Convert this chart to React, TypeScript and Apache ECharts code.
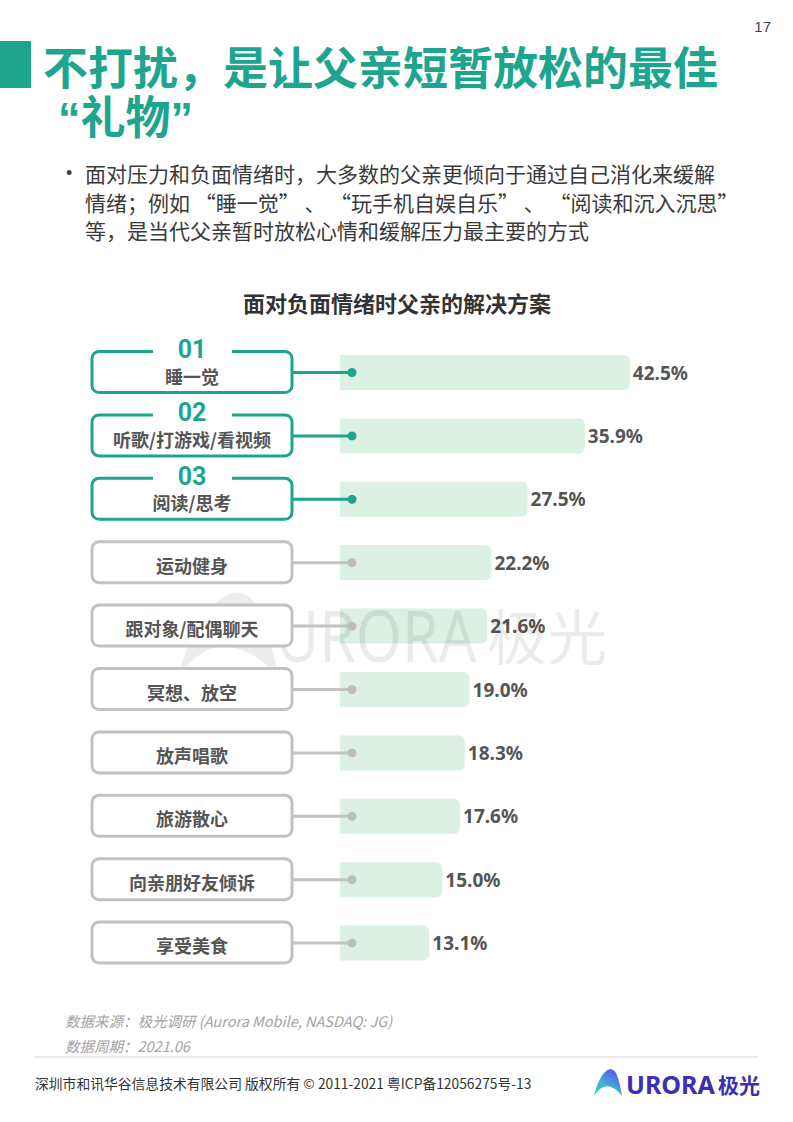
import React, { useEffect, useRef } from "react";
import * as echarts from "echarts";

const categories = [
  "睡一觉",
  "听歌/打游戏/看视频",
  "阅读/思考",
  "运动健身",
  "跟对象/配偶聊天",
  "冥想、放空",
  "放声唱歌",
  "旅游散心",
  "向亲朋好友倾诉",
  "享受美食",
];
const values = [42.5, 35.9, 27.5, 22.2, 21.6, 19.0, 18.3, 17.6, 15.0, 13.1];
const ranks = ["01", "02", "03"];

const titleLines = ["不打扰，是让父亲短暂放松的最佳", "“礼物”"];
const bulletLines = [
  "面对压力和负面情绪时，大多数的父亲更倾向于通过自己消化来缓解",
  "情绪；例如 “睡一觉” 、 “玩手机自娱自乐” 、 “阅读和沉入沉思”",
  "等，是当代父亲暂时放松心情和缓解压力最主要的方式",
];
const chartTitle = "面对负面情绪时父亲的解决方案";
const sourceLines = ["数据来源：极光调研 (Aurora Mobile, NASDAQ: JG)", "数据周期：2021.06"];
const footerText = "深圳市和讯华谷信息技术有限公司 版权所有 © 2011-2021 粤ICP备12056275号-13";
const pageNumber = "17";

const TEAL = "#1ea58e";
const GRAY = "#c2c2c2";
const CJK = "'Noto Sans CJK SC', 'Noto Sans', sans-serif";

const LOGO_D =
  "M0 100 C8 62 28 12 52 2 C64 -3 74 6 80 18 C90 42 96 72 100 100 C86 80 68 66 48 64 C30 63 14 78 0 100 Z";

let registered = false;
function ensureShape() {
  if (registered) return;
  echarts.graphic.registerShape("logo", echarts.graphic.extendPath(LOGO_D, {}));
  registered = true;
}

export default function App() {
  const ref = useRef<HTMLDivElement>(null);
  useEffect(() => {
    if (!ref.current) return;
    ensureShape();
    const chart = echarts.init(ref.current, null, { renderer: "svg" });

    const graphics: any[] = [
      { type: "rect", shape: { x: 0, y: 41, width: 31, height: 47 }, style: { fill: TEAL } },
      {
        type: "text",
        x: 43,
        y: 65,
        style: {
          text: titleLines[0],
          fontSize: 45,
          fontWeight: "bold",
          fontFamily: CJK,
          fill: TEAL,
          verticalAlign: "middle",
        },
      },
      {
        type: "text",
        x: 58,
        y: 118,
        style: {
          text: titleLines[1],
          fontSize: 45,
          fontWeight: "bold",
          fontFamily: "'Liberation Sans', 'Noto Sans CJK SC', sans-serif",
          fill: TEAL,
          verticalAlign: "middle",
        },
      },
      {
        type: "text",
        x: 771,
        y: 26,
        style: { text: pageNumber, fontSize: 15, fontFamily: "'Liberation Sans', sans-serif", fill: "#444", align: "right", verticalAlign: "middle" },
      },
      {
        type: "text",
        x: 66,
        y: 173,
        style: { text: "•", fontSize: 18, fontFamily: "'Liberation Sans', sans-serif", fill: "#404040", verticalAlign: "middle" },
      },
      ...bulletLines.map((t, i) => ({
        type: "text",
        x: 85,
        y: 173 + i * 28.5,
        style: { text: t, fontSize: 21, fontFamily: CJK, fill: "#3a3a3a", verticalAlign: "middle" },
      })),
      {
        type: "text",
        x: 397,
        y: 302,
        style: {
          text: chartTitle,
          fontSize: 22,
          fontWeight: "bold",
          fontFamily: CJK,
          fill: "#333",
          align: "center",
          verticalAlign: "middle",
        },
      },
      // watermark
      {
        type: "logo",
        x: 178,
        y: 592,
        scaleX: 1.0,
        scaleY: 0.85,
        z: 5,
        style: { fill: "rgba(0,0,0,0.07)" },
      },
      {
        type: "text",
        x: 276,
        y: 634,
        scaleX: 0.82,
        z: 5,
        style: {
          text: "URORA",
          fontSize: 72,
          lineHeight: 60,
          fontFamily: "'Noto Sans', sans-serif",
          fill: "rgba(0,0,0,0.08)",
          verticalAlign: "middle",
        },
      },
      {
        type: "text",
        x: 487,
        y: 633,
        z: 5,
        style: {
          text: "极光",
          fontSize: 60,
          lineHeight: 58,
          fontFamily: CJK,
          fill: "rgba(0,0,0,0.08)",
          verticalAlign: "middle",
        },
      },
      ...sourceLines.map((t, i) => ({
        type: "text",
        x: 65,
        y: 1020 + i * 25,
        style: { text: t, fontSize: 14.5, fontStyle: "italic", fontFamily: CJK, fill: "#a3a3a3", verticalAlign: "middle" },
      })),
      {
        type: "line",
        shape: { x1: 35, y1: 1057, x2: 758, y2: 1057 },
        style: { stroke: "#e3e3e3", lineWidth: 1.5 },
      },
      {
        type: "text",
        x: 35,
        y: 1083,
        style: { text: footerText, fontSize: 13.8, fontFamily: CJK, fill: "#333", verticalAlign: "middle" },
      },
      {
        type: "logo",
        x: 594,
        y: 1069,
        scaleX: 0.28,
        scaleY: 0.27,
        style: {
          fill: {
            type: "linear",
            x: 0,
            y: 1,
            x2: 0.6,
            y2: 0,
            colorStops: [
              { offset: 0, color: "#27dba0" },
              { offset: 0.5, color: "#3fb0d8" },
              { offset: 1, color: "#5a5cf0" },
            ],
          },
        },
      },
      {
        type: "text",
        x: 626,
        y: 1084,
        style: {
          text: "URORA",
          fontSize: 25,
          fontWeight: "bold",
          fontFamily: "'Noto Sans', sans-serif",
          fill: "#3b2fb5",
          verticalAlign: "middle",
        },
      },
      {
        type: "text",
        x: 718,
        y: 1084,
        style: {
          text: "极光",
          fontSize: 21,
          fontWeight: "bold",
          fontFamily: CJK,
          fill: "#3b2fb5",
          verticalAlign: "middle",
        },
      },
    ];

    chart.setOption({
      animation: false,
      grid: { left: 340, width: 341, top: 340.8, height: 634 },
      xAxis: { type: "value", min: 0, max: 50, show: false },
      yAxis: {
        type: "category",
        data: categories,
        inverse: true,
        axisLine: { show: false },
        axisTick: { show: false },
        axisLabel: { show: false },
        splitLine: { show: false },
      },
      graphic: graphics,
      series: [
        {
          type: "bar",
          data: values,
          barWidth: 35,
          z: 2,
          itemStyle: { color: "#dcf0e3", borderRadius: [0, 6, 6, 0] },
          label: {
            show: true,
            position: "right",
            distance: 3,
            formatter: (p: any) => Number(p.value).toFixed(1) + "%",
            fontSize: 19,
            fontWeight: "bold",
            fontFamily: "'Noto Sans', sans-serif",
            color: "#555",
          },
        },
        {
          type: "custom",
          z: 10,
          data: categories.map((c, i) => [values[i], i]),
          encode: { x: 0, y: 1 },
          renderItem: (params: any, api: any) => {
            const idx = params.dataIndex;
            const y = api.coord([0, api.value(1)])[1];
            const top = idx < ranks.length;
            const color = top ? TEAL : GRAY;
            const bx = 92;
            const bw = 200;
            const children: any[] = [
              {
                type: "line",
                shape: { x1: bx + bw, y1: y, x2: 352, y2: y },
                style: { stroke: color, lineWidth: 3 },
              },
              {
                type: "circle",
                shape: { cx: 352, cy: y, r: 4.5 },
                style: { fill: top ? TEAL : "#bdbdbd" },
              },
              {
                type: "rect",
                shape: { x: bx, y: y - 21, width: bw, height: 41, r: 7 },
                style: { fill: "#fff", stroke: color, lineWidth: 3 },
              },
              {
                type: "text",
                x: bx + bw / 2,
                y: y + (top ? 3 : 2),
                style: {
                  text: categories[idx],
                  fontSize: 18,
                  fontWeight: "bold",
                  fontFamily: CJK,
                  fill: "#555",
                  align: "center",
                  verticalAlign: "middle",
                },
              },
            ];
            if (top) {
              children.push(
                {
                  type: "rect",
                  shape: { x: 153, y: y - 26, width: 79, height: 10 },
                  style: { fill: "#fff" },
                },
                {
                  type: "text",
                  x: bx + bw / 2,
                  y: y - 23,
                  style: {
                    text: ranks[idx],
                    fontSize: 25,
                    fontWeight: "bold",
                    fontFamily: "Roboto, 'Noto Sans', sans-serif",
                    fill: TEAL,
                    align: "center",
                    verticalAlign: "middle",
                  },
                }
              );
            }
            return { type: "group", children };
          },
        },
      ],
    });
    return () => chart.dispose();
  }, []);

  return (
    <div
      ref={ref}
      style={{ position: "absolute", left: 0, top: 0, width: 793, height: 1122, background: "#fff" }}
    />
  );
}
